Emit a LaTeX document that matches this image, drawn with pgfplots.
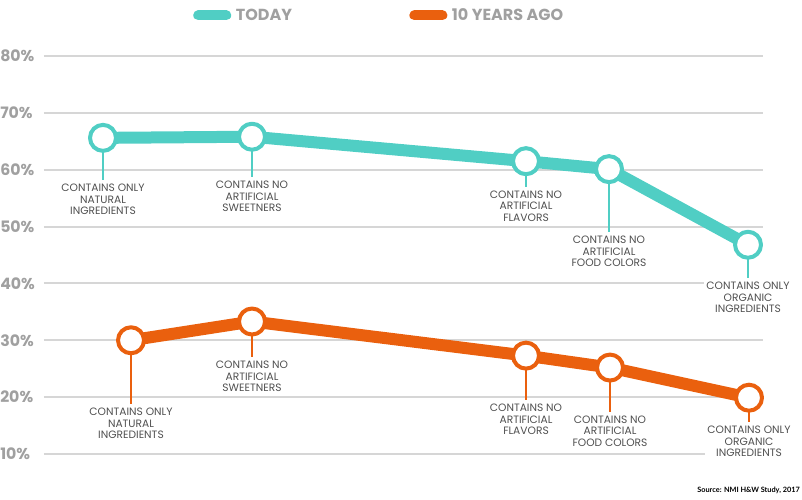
\documentclass[border=0pt]{standalone}
\usepackage{pgfplots}
\pgfplotsset{compat=1.18}
\usepackage{pgfplotstable}
\usepackage{fontspec}
\setmainfont{Poppins}
\newfontfamily\srcfont{Lato}
\definecolor{tealc}{RGB}{80,206,196}
\definecolor{orngc}{RGB}{234,96,14}
\definecolor{gridc}{RGB}{214,214,214}
\definecolor{tickc}{RGB}{160,160,160}
\definecolor{txtc}{RGB}{80,80,80}

\pgfplotstableread{
x y
103 65.6
252 65.8
526 61.5
609 60.1
748 46.8
}\datanow
\pgfplotstableread{
x y
131 30.0
252 33.3
526 27.3
610 25.2
749 19.9
}\dataold

\begin{document}
\begin{tikzpicture}
\begin{axis}[
  scale only axis,
  width=539.25pt, height=298.5pt,
  xmin=44, xmax=763, ymin=10, ymax=80,
  clip=false,
  axis line style={draw=none},
  major tick length=0pt,
  xtick=\empty,
  ytick={10,20,30,40,50,60,70,80},
  yticklabels={10\%,20\%,30\%,40\%,50\%,60\%,70\%,80\%},
  yticklabel style={anchor=west, xshift=-33pt, inner sep=0pt, text=tickc,
    font=\bfseries\fontsize{11.8}{13}\selectfont},
  ymajorgrids,
  grid style={gridc, line width=1.5pt},
  legend image code/.code={\draw[#1,line width=7.5pt,line cap=round](0pt,0pt)--(21pt,0pt);\path (26pt,0pt);},
  legend columns=2,
  legend style={draw=none, fill=none, at={(0.2072,1.102)}, anchor=west,
    inner xsep=0pt, inner ysep=0pt, text=tickc,
    font=\bfseries\fontsize{12}{13}\selectfont,
    /tikz/every even column/.append style={column sep=86pt}},
  unbounded coords=jump,
]
\addlegendimage{tealc}
\addlegendentry{TODAY}
\addlegendimage{orngc}
\addlegendentry{10 YEARS AGO}

% stems
\addplot[tealc, line width=2pt, forget plot] coordinates {
 (103,65.6) (103,58.2) (103,nan)
 (252,65.8) (252,58.7) (252,nan)
 (526,61.5) (526,57.0) (526,nan)
 (609,60.1) (609,49.05) (609,nan)
 (748,46.8) (748,40.95)
};
\addplot[orngc, line width=2pt, forget plot] coordinates {
 (131,30.0) (131,18.8) (131,nan)
 (252,33.3) (252,27.06) (252,nan)
 (526,27.3) (526,19.5) (526,nan)
 (610,25.2) (610,17.44) (610,nan)
 (749,19.9) (749,15.63)
};

\addplot[tealc, line width=9pt, line join=round, forget plot,
  mark=*, mark size=9.75pt, mark options={fill=white, draw=tealc, line width=3pt}]
  table[x=x,y=y] {\datanow};
\addplot[orngc, line width=9pt, line join=round, forget plot,
  mark=*, mark size=9.75pt, mark options={fill=white, draw=orngc, line width=3pt}]
  table[x=x,y=y] {\dataold};

\tikzset{lbl/.style={anchor=north, fill=white, inner xsep=1.5pt, inner ysep=3pt, align=center, text=txtc,
  font=\fontsize{8}{8.5}\selectfont}}
\node[lbl] at (axis cs:103,58.2) {CONTAINS ONLY\\NATURAL\\INGREDIENTS};
\node[lbl] at (axis cs:252,58.7) {CONTAINS NO\\ARTIFICIAL\\SWEETNERS};
\node[lbl] at (axis cs:526,57.0) {CONTAINS NO\\ARTIFICIAL\\FLAVORS};
\node[lbl] at (axis cs:609,49.05) {CONTAINS NO\\ARTIFICIAL\\FOOD COLORS};
\node[lbl] at (axis cs:748,40.95) {CONTAINS ONLY\\ORGANIC\\INGREDIENTS};
\node[lbl] at (axis cs:131,18.8) {CONTAINS ONLY\\NATURAL\\INGREDIENTS};
\node[lbl] at (axis cs:252,27.06) {CONTAINS NO\\ARTIFICIAL\\SWEETNERS};
\node[lbl] at (axis cs:526,19.5) {CONTAINS NO\\ARTIFICIAL\\FLAVORS};
\node[lbl] at (axis cs:610,17.44) {CONTAINS NO\\ARTIFICIAL\\FOOD COLORS};
\node[lbl] at (axis cs:749,15.63) {CONTAINS ONLY\\ORGANIC\\INGREDIENTS};

\node[anchor=east, inner sep=0pt, font=\srcfont\bfseries\fontsize{5.5}{6}\selectfont]
  at (axis cs:800,3.67) {Source: NMI H\&W Study, 2017};

\coordinate (bl) at (axis cs:0,1.91);
\coordinate (tr) at (axis cs:802,89.85);
\end{axis}
\pgfresetboundingbox
\useasboundingbox (bl) rectangle (tr);
\end{tikzpicture}
\end{document}
